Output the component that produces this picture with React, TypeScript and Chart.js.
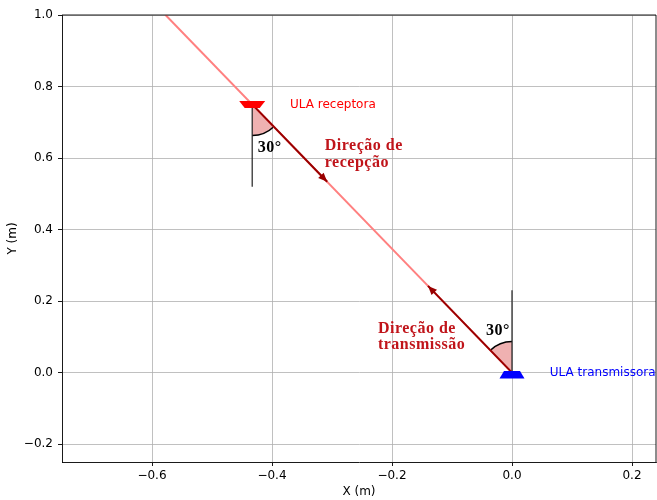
import React, { useEffect, useRef } from "react";
import { Chart, registerables } from "chart.js";
Chart.register(...registerables);

// ---- data ----
const xTicks = [-0.6, -0.4, -0.2, 0.0, 0.2];
const yTicks = [-0.2, 0.0, 0.2, 0.4, 0.6, 0.8, 1.0];
const xRange = [-0.75, 0.24];
const yRange = [-0.25, 1.0];

const receiverPos = [-0.433, 0.75];
const transmitterPos = [0.0, 0.0];
const beamX = [0.0, -0.5774];
const beamY = [0.0, 1.0];
const rxVerticalY = [0.75, 0.52];
const txVerticalY = [0.0, 0.23];
const rxArrowX = [-0.433, -0.308];
const rxArrowY = [0.75, 0.5335];
const txArrowX = [0.0, -0.14];
const txArrowY = [0.0, 0.2425];
const angleLabel = "30°";

const zip = (xs: number[], ys: number[]) => xs.map((x, i) => ({ x, y: ys[i] }));

const fmt = (v: number) => {
  const n = Number(v);
  const s = Math.abs(n) < 1e-9 ? "0.0" : n.toFixed(1);
  return s.replace("-", "\u2212");
};

const SERIF_B = "bold 16px 'Liberation Serif', 'DejaVu Serif', serif";
const SANS = "12px 'DejaVu Sans', sans-serif";

const annotPlugin = {
  id: "annot",
  beforeDatasetsDraw(chart: any) {
    const { ctx, chartArea } = chart;
    const xs = chart.scales.x;
    const ys = chart.scales.y;
    ctx.save();
    ctx.beginPath();
    ctx.rect(chartArea.left, chartArea.top, chartArea.right - chartArea.left, chartArea.bottom - chartArea.top);
    ctx.clip();
    const wedge = (cx: number, cy: number, tx: number, ty: number, vertAngle: number) => {
      const a = Math.atan2(ty - cy, tx - cx);
      const r = 31;
      const a0 = Math.min(a, vertAngle);
      const a1 = Math.max(a, vertAngle);
      ctx.beginPath();
      ctx.moveTo(cx, cy);
      ctx.arc(cx, cy, r, a0, a1, false);
      ctx.closePath();
      ctx.fillStyle = "#efb1b1";
      ctx.fill();
      ctx.beginPath();
      ctx.arc(cx, cy, r, a0, a1, false);
      ctx.strokeStyle = "#000";
      ctx.lineWidth = 1.5;
      ctx.stroke();
    };
    const rcx = xs.getPixelForValue(receiverPos[0]);
    const rcy = ys.getPixelForValue(receiverPos[1]);
    wedge(rcx, rcy, xs.getPixelForValue(rxArrowX[1]), ys.getPixelForValue(rxArrowY[1]), Math.PI / 2);
    const tcx = xs.getPixelForValue(transmitterPos[0]);
    const tcy = ys.getPixelForValue(transmitterPos[1]);
    wedge(tcx, tcy, xs.getPixelForValue(txArrowX[1]), ys.getPixelForValue(txArrowY[1]), -Math.PI / 2);
    ctx.restore();
  },
  afterDatasetsDraw(chart: any) {
    const { ctx, chartArea } = chart;
    const xs = chart.scales.x;
    const ys = chart.scales.y;
    const px = (v: number) => xs.getPixelForValue(v);
    const py = (v: number) => ys.getPixelForValue(v);
    ctx.save();

    // arrowheads
    const head = (x0: number, y0: number, x1: number, y1: number) => {
      const a = Math.atan2(y1 - y0, x1 - x0);
      const L = 9, W = 3.8;
      ctx.beginPath();
      ctx.moveTo(x1, y1);
      ctx.lineTo(x1 - L * Math.cos(a) + W * Math.sin(a), y1 - L * Math.sin(a) - W * Math.cos(a));
      ctx.lineTo(x1 - L * Math.cos(a) - W * Math.sin(a), y1 - L * Math.sin(a) + W * Math.cos(a));
      ctx.closePath();
      ctx.fillStyle = "#990000";
      ctx.fill();
    };
    head(px(rxArrowX[0]), py(rxArrowY[0]), px(rxArrowX[1]), py(rxArrowY[1]));
    head(px(txArrowX[0]), py(txArrowY[0]), px(txArrowX[1]), py(txArrowY[1]));

    // ULA markers (trapezoids)
    const trap = (cx: number, cy: number, yTop: number, yBot: number, wTop: number, wBot: number, color: string) => {
      ctx.beginPath();
      ctx.moveTo(cx - wTop, cy + yTop);
      ctx.lineTo(cx + wTop, cy + yTop);
      ctx.lineTo(cx + wBot, cy + yBot);
      ctx.lineTo(cx - wBot, cy + yBot);
      ctx.closePath();
      ctx.fillStyle = color;
      ctx.fill();
    };
    trap(px(receiverPos[0]), py(receiverPos[1]), -3.5, 3.5, 13, 7.5, "#ff0000");
    trap(px(transmitterPos[0]), py(transmitterPos[1]), -1.5, 6, 8, 12.5, "#0000ff");

    // texts
    ctx.textAlign = "left";
    ctx.textBaseline = "middle";
    ctx.font = SANS;
    ctx.fillStyle = "#ff0000";
    ctx.fillText("ULA receptora", px(-0.37), py(receiverPos[1]));
    ctx.fillStyle = "#0000ff";
    ctx.fillText("ULA transmissora", px(0.063), py(transmitterPos[1]));

    ctx.textBaseline = "alphabetic";
    ctx.font = SERIF_B;
    (ctx as any).letterSpacing = "0.5px";
    ctx.fillStyle = "#000";
    ctx.fillText(angleLabel, px(-0.4237), py(0.617));
    ctx.fillText(angleLabel, px(-0.0434), py(0.106));

    ctx.fillStyle = "#c0141a";
    const rx = px(-0.312), ry = py(0.623);
    ctx.fillText("Direção de", rx, ry);
    ctx.fillText("recepção", rx, ry + 17);
    const tx = px(-0.2235), ty = py(0.1117);
    ctx.fillText("Direção de", tx, ty);
    ctx.fillText("transmissão", tx, ty + 16.5);
    (ctx as any).letterSpacing = "0px";

    // top/right spines
    ctx.strokeStyle = "#000";
    ctx.lineWidth = 0.9;
    ctx.beginPath();
    ctx.moveTo(chartArea.left, chartArea.top);
    ctx.lineTo(chartArea.right, chartArea.top);
    ctx.lineTo(chartArea.right, chartArea.bottom);
    ctx.stroke();

    // axis titles
    ctx.fillStyle = "#000";
    ctx.font = SANS;
    ctx.textAlign = "center";
    ctx.textBaseline = "middle";
    ctx.fillText("X (m)", (chartArea.left + chartArea.right) / 2, 492);
    ctx.translate(12.5, (chartArea.top + chartArea.bottom) / 2);
    ctx.rotate(-Math.PI / 2);
    ctx.fillText("Y (m)", 0, 0);
    ctx.restore();
  },
};

export default function App() {
  const ref = useRef<HTMLCanvasElement>(null);
  useEffect(() => {
    if (!ref.current) return;
    const tickFont = { family: "'DejaVu Sans', sans-serif", size: 12 };
    const chart = new Chart(ref.current, {
      type: "scatter",
      data: {
        // Chart.js draws the first dataset on top
        datasets: [
          { data: zip(rxArrowX, rxArrowY), showLine: true, borderColor: "#990000", borderWidth: 2, pointRadius: 0 },
          { data: zip(txArrowX, txArrowY), showLine: true, borderColor: "#990000", borderWidth: 2, pointRadius: 0 },
          { data: zip([receiverPos[0], receiverPos[0]], rxVerticalY), showLine: true, borderColor: "#222", borderWidth: 1.2, pointRadius: 0 },
          { data: zip([transmitterPos[0], transmitterPos[0]], txVerticalY), showLine: true, borderColor: "#222", borderWidth: 1.2, pointRadius: 0 },
          { data: zip(beamX, beamY), showLine: true, borderColor: "#ff8080", borderWidth: 2, pointRadius: 0 },
        ],
      },
      options: {
        animation: false,
        responsive: false,
        devicePixelRatio: 1,
        layout: { padding: { top: 15, right: 1, left: 0, bottom: 0 } },
        plugins: { legend: { display: false }, tooltip: { enabled: false } },
        scales: {
          x: {
            type: "linear",
            min: xRange[0],
            max: xRange[1],
            afterBuildTicks: (s: any) => { s.ticks = xTicks.map((v) => ({ value: v })); },
            afterFit: (s: any) => { s.height = 38; },
            ticks: { callback: (v: any) => fmt(v), font: tickFont, color: "#000", padding: 3, maxRotation: 0, autoSkip: false },
            grid: { color: "#b0b0b0", lineWidth: 0.8, tickLength: 4, tickColor: "#000", tickWidth: 0.9 },
            border: { color: "#000", width: 0.9 },
          },
          y: {
            type: "linear",
            min: yRange[0],
            max: yRange[1],
            afterBuildTicks: (s: any) => { s.ticks = yTicks.map((v) => ({ value: v })); },
            afterFit: (s: any) => { s.width = 62; },
            ticks: { callback: (v: any) => fmt(v), font: tickFont, color: "#000", padding: 5, autoSkip: false },
            grid: { color: "#b0b0b0", lineWidth: 0.8, tickLength: 4, tickColor: "#000", tickWidth: 0.9 },
            border: { color: "#000", width: 0.9 },
          },
        },
      },
      plugins: [annotPlugin],
    } as any);
    return () => chart.destroy();
  }, []);
  return (
    <div style={{ position: "fixed", left: 0, top: 0, width: 657, height: 500, background: "#fff" }}>
      <canvas ref={ref} width={657} height={500} style={{ display: "block", width: 657, height: 500 }} />
    </div>
  );
}
